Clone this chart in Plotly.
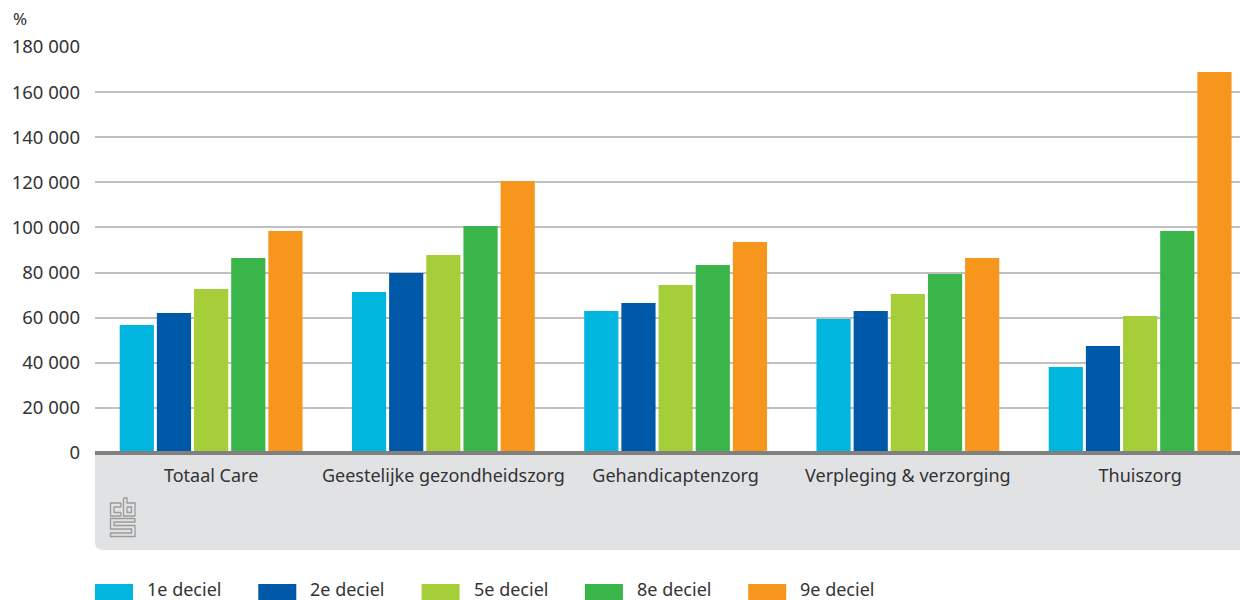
import plotly.graph_objects as go

categories = ["Totaal Care", "Geestelijke gezondheidszorg", "Gehandicaptenzorg",
              "Verpleging & verzorging", "Thuiszorg"]
series_names = ["1e deciel", "2e deciel", "5e deciel", "8e deciel", "9e deciel"]
series_colors = ["#00b5de", "#0058a8", "#a6ce39", "#39b54a", "#f7961d"]
v_1e = [56700, 71400, 63000, 59400, 38100]
v_2e = [62100, 79800, 66500, 63000, 47400]
v_5e = [72700, 87800, 74500, 70500, 60700]
v_8e = [86500, 100600, 83300, 79400, 98400]
v_9e = [98400, 120600, 93500, 86500, 168900]
series_values = [v_1e, v_2e, v_5e, v_8e, v_9e]
y_ticks = [0, 20000, 40000, 60000, 80000, 100000, 120000, 140000, 160000, 180000]

W, H = 1240, 600
ML, MR, MT, MB = 95, 0, 47, 147
PW, PH = W - ML - MR, H - MT - MB
CAT_W = 232.25  # pixel width of one category slot (plot runs past the right edge)

def px(x):
    return (x - ML) / PW

def py(y):
    return (H - MB - y) / PH

FONT = "Noto Sans"
TXT = "#333333"

fig = go.Figure()
for name, col, vals in zip(series_names, series_colors, series_values):
    fig.add_trace(go.Bar(x=categories, y=vals, name=name, marker_color=col,
                         marker_line_width=0, showlegend=False))

shapes = []
# gray category panel with rounded bottom-left corner
r_x, r_y = 8 / PW, 8 / PH
yb = py(550)
shapes.append(dict(type="path", xref="paper", yref="paper", layer="below",
                   path=(f"M 0 0 L 1 0 L 1 {yb} L {r_x} {yb} "
                         f"Q 0 {yb} 0 {yb + r_y} Z"),
                   fillcolor="#e1e2e4", line=dict(width=0)))
# axis baseline
shapes.append(dict(type="line", xref="paper", yref="paper", x0=0, x1=1, y0=0, y1=0,
                   line=dict(color="#808080", width=4), layer="above"))

# cbs logo (approximate)
logo_col = "#9a9a9a"
def seg(pts):
    p = "M " + " L ".join(f"{px(a)} {py(b)}" for a, b in pts)
    shapes.append(dict(type="path", xref="paper", yref="paper", path=p,
                       line=dict(color=logo_col, width=1.3), layer="above"))
# c
seg([(121, 503), (110.5, 503), (110.5, 516), (121, 516)])
seg([(121, 507), (114, 507), (114, 512.5), (121, 512.5)])
seg([(121, 503), (121, 507)])
seg([(121, 512.5), (121, 516)])
# b
seg([(123.5, 498), (123.5, 516), (135, 516), (135, 503), (127, 503), (127, 498), (123.5, 498)])
seg([(127, 507), (131.5, 507), (131.5, 512.5), (127, 512.5), (127, 507)])
# S
seg([(135, 518.5), (110.5, 518.5), (110.5, 529), (131.5, 529), (131.5, 533), (110.5, 533),
     (110.5, 536.5), (135, 536.5), (135, 525.5), (114, 525.5), (114, 522), (135, 522), (135, 518.5)])

annotations = []
# custom legend
for i, (name, col) in enumerate(zip(series_names, series_colors)):
    x0 = 95 + i * 163.3
    shapes.append(dict(type="rect", xref="paper", yref="paper",
                       x0=px(x0), x1=px(x0 + 38), y0=py(600), y1=py(584),
                       fillcolor=col, line=dict(width=0)))
    annotations.append(dict(xref="paper", yref="paper", x=px(x0 + 50), y=py(588.5),
                            xanchor="left", yanchor="middle", text=name, showarrow=False,
                            font=dict(family=FONT, size=18, color=TXT)))
annotations.append(dict(xref="paper", yref="paper", x=px(11), y=py(18),
                        xanchor="left", yanchor="middle", text="%", showarrow=False,
                        font=dict(family=FONT, size=17, color=TXT)))

fig.update_layout(
    width=W, height=H,
    margin=dict(l=ML, r=MR, t=MT, b=MB, pad=0),
    paper_bgcolor="white", plot_bgcolor="white",
    barmode="group", bargap=0.2, bargroupgap=0.08,
    separators=", ",
    font=dict(family=FONT, size=18, color=TXT),
    shapes=shapes, annotations=annotations,
    xaxis=dict(range=[-0.5, -0.5 + PW / CAT_W],
               showgrid=False, showline=False, zeroline=False, ticks="",
               ticklabelstandoff=10, tickfont=dict(family=FONT, size=18, color=TXT)),
    yaxis=dict(range=[0, 180000], tickvals=y_ticks, tickformat=",d",
               showgrid=True, gridcolor="#c0c0c0", gridwidth=1.5,
               zeroline=False, showline=False, ticks="",
               ticklabelstandoff=14, tickfont=dict(family=FONT, size=18.5, color=TXT)),
)

fig.write_html("out.html", config={"displayModeBar": False},
               post_script="document.body.style.margin='0';document.body.style.padding='0';")
